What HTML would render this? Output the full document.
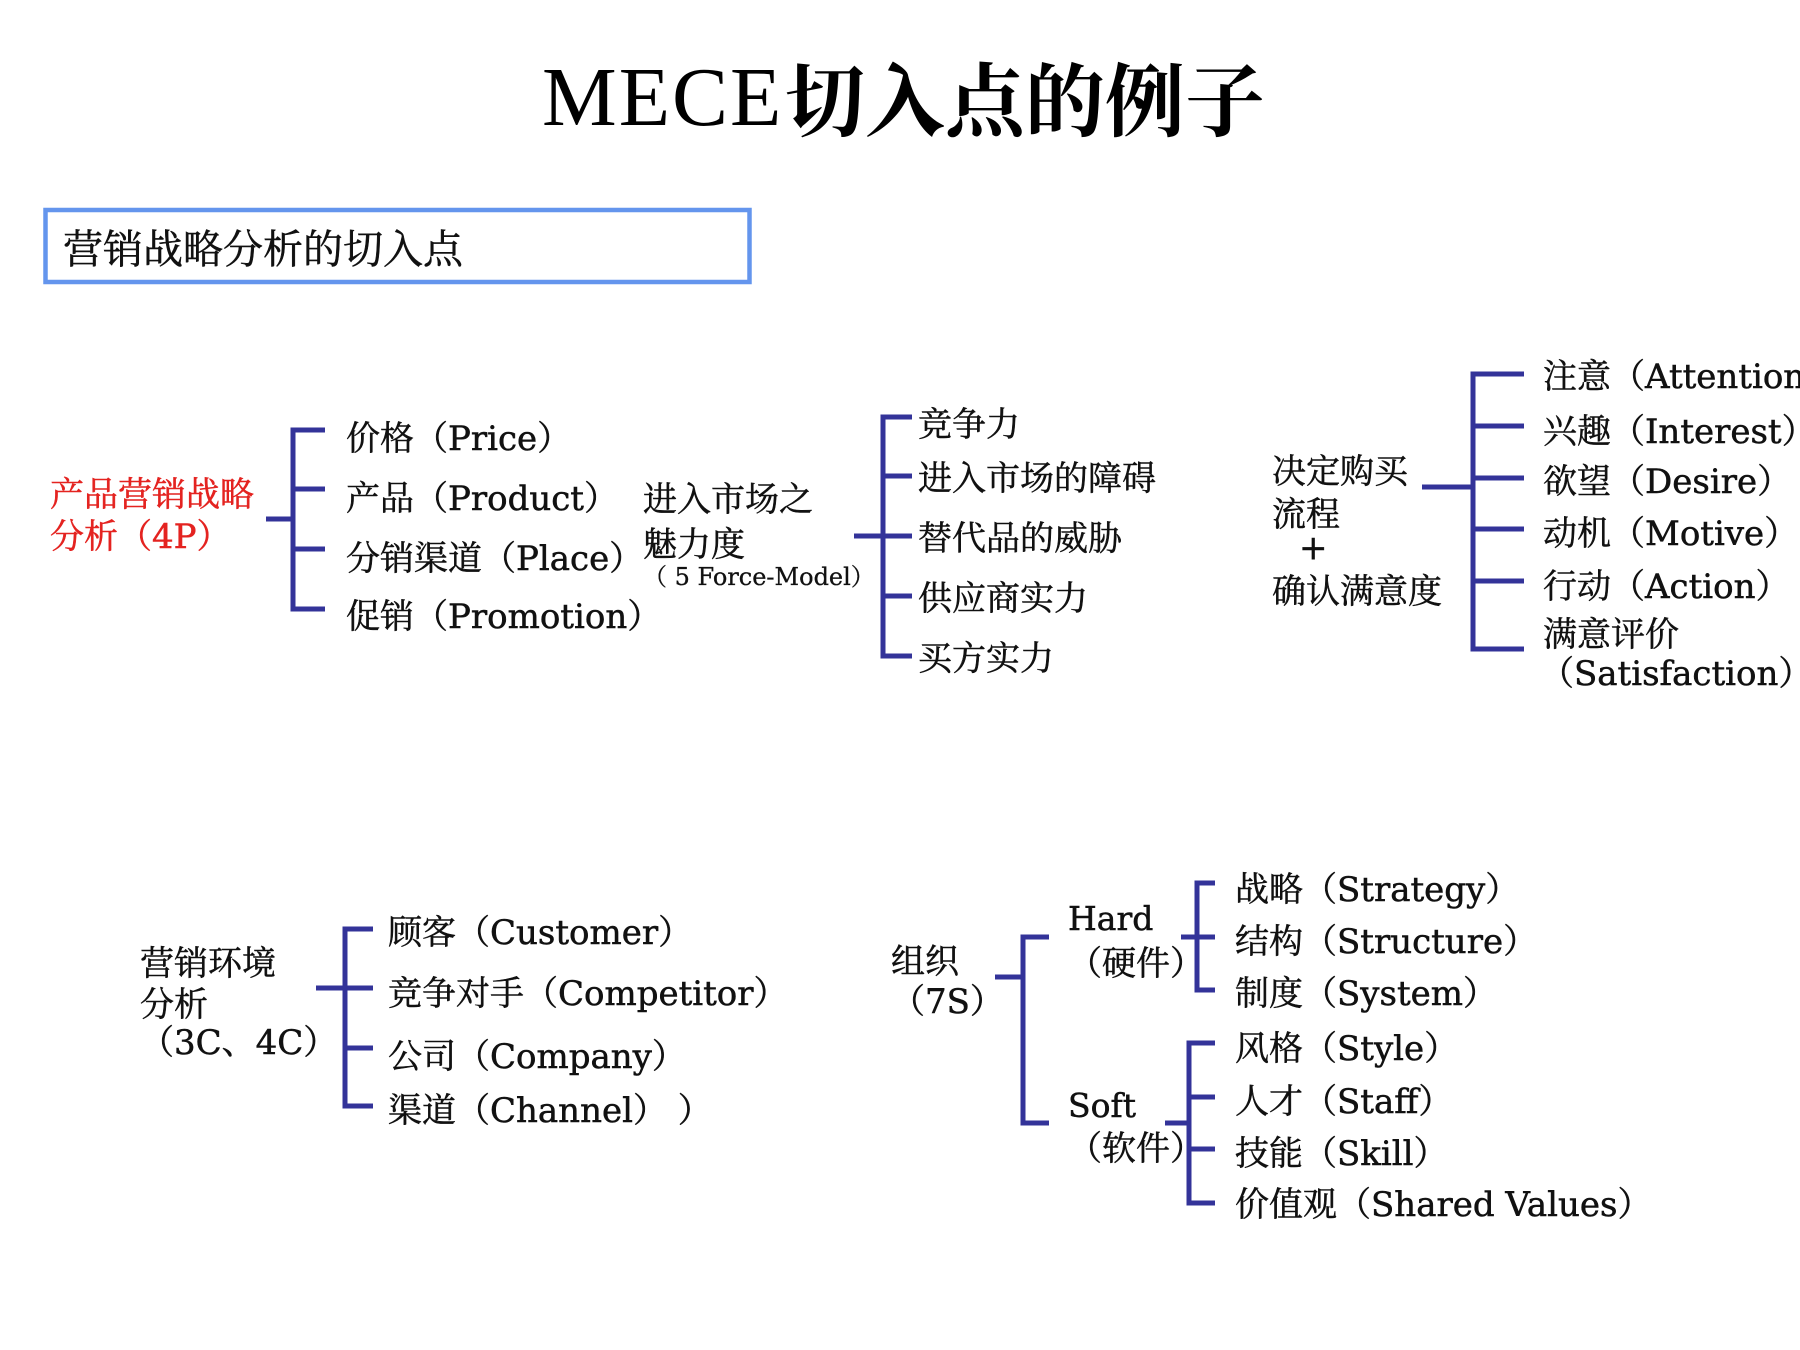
<!DOCTYPE html>
<html>
<head>
<meta charset="utf-8">
<style>
  html,body{margin:0;padding:0;background:#fff;}
  body{width:1800px;height:1350px;overflow:hidden;}
  svg{display:block;}
  .t{font-family:"DejaVu Serif","Noto Serif CJK SC",serif;font-size:34px;fill:#111;stroke:#111;stroke-width:0.5;}
  .r{fill:#e42320;stroke:#e42320;}
  .ln{fill:none;stroke:#333399;stroke-width:5;stroke-linejoin:miter;stroke-linecap:butt;}
</style>
</head>
<body>
<svg width="1800" height="1350" viewBox="0 0 1800 1350" xmlns="http://www.w3.org/2000/svg">
  <!-- Title -->
  <text x="542" y="125" font-family="Liberation Serif, serif" font-size="84" letter-spacing="2" fill="#000">MECE</text>
  <text x="785" y="130" font-family="Noto Serif CJK SC, serif" font-size="80" font-weight="700" fill="#000">切入点的例子</text>

  <!-- Header box -->
  <rect x="45.5" y="210" width="704" height="72" fill="#fff" stroke="#6495ed" stroke-width="4.5"/>
  <text class="t" x="63" y="263" style="font-size:40px">营销战略分析的切入点</text>

  <!-- 4P -->
  <text class="t r" x="50" y="506">产品营销战略</text>
  <text class="t r" x="50" y="548">分析（4P）</text>
  <path class="ln" d="M325,430 H293 V609 H325 M293,489 H325 M293,549 H325 M266,519 H293"/>
  <text class="t" x="346" y="450">价格（Price）</text>
  <text class="t" x="346" y="510">产品（Product）</text>
  <text class="t" x="346" y="570">分销渠道（Place）</text>
  <text class="t" x="346" y="628">促销（Promotion）</text>

  <!-- 5 Force -->
  <text class="t" x="643" y="511">进入市场之</text>
  <text class="t" x="643" y="556">魅力度</text>
  <text class="t" x="643" y="585" style="font-size:24px;stroke-width:0.3">（ 5 Force-Model）</text>
  <path class="ln" d="M912,417 H883 V656 H912 M883,476 H912 M883,536 H912 M883,596 H912 M854,536 H883"/>
  <text class="t" x="918" y="436">竞争力</text>
  <text class="t" x="918" y="490">进入市场的障碍</text>
  <text class="t" x="918" y="550">替代品的威胁</text>
  <text class="t" x="918" y="610">供应商实力</text>
  <text class="t" x="918" y="670">买方实力</text>

  <!-- AIDAS -->
  <text class="t" x="1272" y="483">决定购买</text>
  <text class="t" x="1272" y="526">流程</text>
  <text class="t" x="1299" y="559">+</text>
  <text class="t" x="1272" y="603">确认满意度</text>
  <path class="ln" d="M1524,374 H1473 V649 H1524 M1473,426 H1524 M1473,478 H1524 M1473,529 H1524 M1473,581 H1524 M1422,487 H1473"/>
  <text class="t" x="1543" y="388">注意（Attention）</text>
  <text class="t" x="1543" y="443">兴趣（Interest）</text>
  <text class="t" x="1543" y="493">欲望（Desire）</text>
  <text class="t" x="1543" y="545">动机（Motive）</text>
  <text class="t" x="1543" y="598">行动（Action）</text>
  <text class="t" x="1543" y="646">满意评价</text>
  <text class="t" x="1540" y="685">（Satisfaction）</text>

  <!-- 3C -->
  <text class="t" x="140" y="975">营销环境</text>
  <text class="t" x="140" y="1016">分析</text>
  <text class="t" x="140" y="1054">（3C、4C）</text>
  <path class="ln" d="M373,929 H345 V1106 H373 M345,988 H373 M345,1048 H373 M316,988 H345"/>
  <text class="t" x="388" y="944">顾客（Customer）</text>
  <text class="t" x="388" y="1005">竞争对手（Competitor）</text>
  <text class="t" x="388" y="1068">公司（Company）</text>
  <text class="t" x="388" y="1122">渠道（Channel） ）</text>

  <!-- 7S -->
  <text class="t" x="891" y="973">组织</text>
  <text class="t" x="891" y="1013">（7S）</text>
  <path class="ln" d="M1049,937 H1023 V1123 H1049 M995,977 H1023"/>
  <text class="t" x="1068" y="930" style="font-size:33px">Hard</text>
  <text class="t" x="1068" y="975">（硬件）</text>
  <text class="t" x="1068" y="1117" style="font-size:33px">Soft</text>
  <text class="t" x="1068" y="1160">（软件）</text>
  <path class="ln" d="M1215,883 H1197 V990 H1215 M1197,937 H1215 M1181,937 H1197"/>
  <path class="ln" d="M1215,1043 H1189 V1203 H1215 M1189,1097 H1215 M1189,1149 H1215 M1165,1123 H1189"/>
  <text class="t" x="1235" y="901">战略（Strategy）</text>
  <text class="t" x="1235" y="953">结构（Structure）</text>
  <text class="t" x="1235" y="1005">制度（System）</text>
  <text class="t" x="1235" y="1060">风格（Style）</text>
  <text class="t" x="1235" y="1113">人才（Staff）</text>
  <text class="t" x="1235" y="1165">技能（Skill）</text>
  <text class="t" x="1235" y="1216">价值观（Shared Values）</text>
</svg>
</body>
</html>
